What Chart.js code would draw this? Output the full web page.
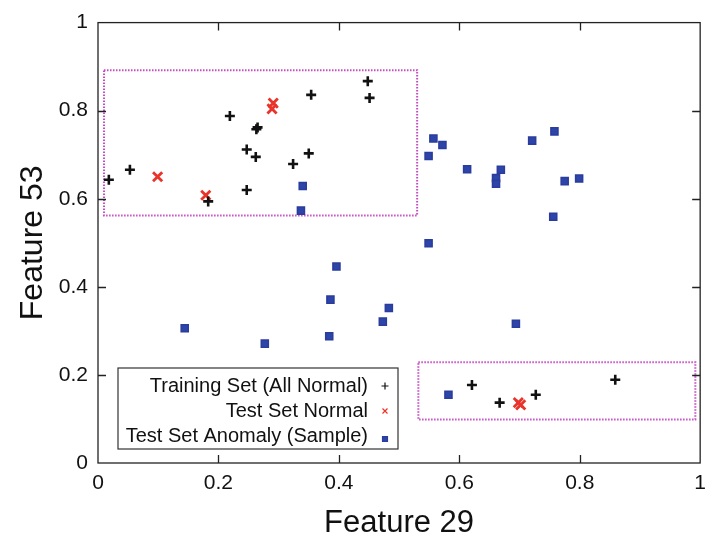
<!DOCTYPE html>
<html>
<head>
<meta charset="utf-8">
<script src="https://cdn.jsdelivr.net/npm/chart.js@4"></script>
<style>
  html, body { margin: 0; padding: 0; background: #fff; }
  #wrap { width: 714px; height: 546px; }
</style>
</head>
<body>
<div id="wrap"><canvas id="scatter"></canvas></div>
<script>
// values
const trainX = [0.018, 0.053, 0.183, 0.219, 0.247, 0.247, 0.262, 0.263, 0.265, 0.324, 0.350, 0.354, 0.448, 0.451, 0.621, 0.667, 0.727, 0.859];
const trainY = [0.643, 0.666, 0.594, 0.788, 0.712, 0.620, 0.695, 0.758, 0.762, 0.679, 0.703, 0.836, 0.867, 0.829, 0.177, 0.137, 0.155, 0.189];

const normalX = [0.099, 0.179, 0.289, 0.291, 0.698, 0.702];
const normalY = [0.650, 0.608, 0.804, 0.817, 0.137, 0.132];

const anomalyX = [0.340, 0.337, 0.557, 0.572, 0.549, 0.613, 0.669, 0.661, 0.661, 0.721, 0.758, 0.775, 0.799, 0.756, 0.549, 0.694, 0.396, 0.386, 0.483, 0.473, 0.384, 0.144, 0.277, 0.582];
const anomalyY = [0.629, 0.573, 0.737, 0.722, 0.697, 0.667, 0.666, 0.647, 0.634, 0.732, 0.753, 0.640, 0.646, 0.559, 0.499, 0.316, 0.446, 0.371, 0.352, 0.321, 0.288, 0.306, 0.271, 0.155];

// dotted boxes: [xmin, xmax, ymin, ymax]
const boxes = [
  [0.010, 0.530, 0.562, 0.892],
  [0.532, 0.992, 0.099, 0.229]
];

const tickValues = [0, 0.2, 0.4, 0.6, 0.8, 1];
const tickLabels = ['0', '0.2', '0.4', '0.6', '0.8', '1'];

const seriesNames = ['Training Set (All Normal)', 'Test Set Normal', 'Test Set Anomaly (Sample)'];

const toPoints = (xs, ys) => xs.map((x, i) => ({ x: x, y: ys[i] }));
const FONT = '"Liberation Sans", Arial, Helvetica, sans-serif';

const labelFor = v => {
  const i = tickValues.findIndex(t => Math.abs(t - v) < 1e-6);
  return i >= 0 ? tickLabels[i] : '';
};

// frame, inward ticks on all four sides, dotted boxes, legend
const framePlugin = {
  id: 'frame',
  beforeDatasetsDraw(chart) {
    const { ctx, scales: { x, y } } = chart;
    ctx.save();
    ctx.strokeStyle = '#c64cc4';
    ctx.lineWidth = 2;
    ctx.setLineDash([1.5, 1.5]);
    boxes.forEach(b => {
      const x0 = x.getPixelForValue(b[0]), x1 = x.getPixelForValue(b[1]);
      const y0 = y.getPixelForValue(b[3]), y1 = y.getPixelForValue(b[2]);
      ctx.strokeRect(x0, y0, x1 - x0, y1 - y0);
    });
    ctx.restore();
  },
  afterDatasetsDraw(chart) {
    const { ctx, chartArea: a, scales: { x, y } } = chart;
    ctx.save();
    ctx.strokeStyle = '#222';
    ctx.lineWidth = 1.3;
    ctx.strokeRect(a.left, a.top, a.right - a.left, a.bottom - a.top);
    const len = 8;
    ctx.beginPath();
    tickValues.slice(1, -1).forEach(v => {
      const px = Math.round(x.getPixelForValue(v)) + 0.5;
      ctx.moveTo(px, a.bottom); ctx.lineTo(px, a.bottom - len);
      ctx.moveTo(px, a.top); ctx.lineTo(px, a.top + len);
      const py = Math.round(y.getPixelForValue(v)) + 0.5;
      ctx.moveTo(a.left, py); ctx.lineTo(a.left + len, py);
      ctx.moveTo(a.right, py); ctx.lineTo(a.right - len, py);
    });
    ctx.stroke();

    // legend box, text right aligned with marker after it
    const lx = a.left + 20, ly = a.bottom - 95, lw = 280, lh = 81;
    ctx.fillStyle = '#fff';
    ctx.fillRect(lx, ly, lw, lh);
    ctx.lineWidth = 1.2;
    ctx.strokeStyle = '#333';
    ctx.strokeRect(lx, ly, lw, lh);
    ctx.font = '20px ' + FONT;
    ctx.textAlign = 'right';
    ctx.textBaseline = 'middle';
    chart.data.datasets.forEach((ds, i) => {
      const ty = ly + 18 + i * 25;
      ctx.fillStyle = '#111';
      ctx.fillText(ds.label, lx + 250, ty);
      ctx.fillStyle = ds.backgroundColor;
      ctx.strokeStyle = ds.borderColor;
      Chart.helpers.drawPoint(ctx, {
        pointStyle: ds.pointStyle,
        radius: 3.5,
        borderWidth: 2,
        rotation: 0
      }, lx + 267, ty + (i === 2 ? 3 : 0));
    });
    ctx.restore();
  }
};

new Chart(document.getElementById('scatter'), {
  type: 'scatter',
  data: {
    datasets: [
      {
        label: seriesNames[0],
        data: toPoints(trainX, trainY),
        pointStyle: 'cross',
        pointRadius: 5,
        borderWidth: 2.6,
        borderColor: '#111',
        backgroundColor: '#111'
      },
      {
        label: seriesNames[1],
        data: toPoints(normalX, normalY),
        pointStyle: 'crossRot',
        pointRadius: 6.5,
        borderWidth: 2.8,
        borderColor: '#e8342b',
        backgroundColor: '#e8342b'
      },
      {
        label: seriesNames[2],
        data: toPoints(anomalyX, anomalyY),
        pointStyle: 'rect',
        pointRadius: 5,
        borderWidth: 1.5,
        borderColor: '#2a3c9c',
        backgroundColor: '#2d44a8'
      }
    ]
  },
  options: {
    responsive: true,
    maintainAspectRatio: false,
    animation: false,
    layout: { padding: { top: 18, right: 13, left: 0, bottom: 0 } },
    plugins: {
      legend: { display: false },
      tooltip: { enabled: false }
    },
    scales: {
      x: {
        type: 'linear',
        min: 0,
        max: 1,
        afterFit: s => { s.height = 83; },
        afterBuildTicks: s => { s.ticks = tickValues.map(v => ({ value: v })); },
        grid: { display: false, drawTicks: false },
        border: { display: false },
        ticks: {
          padding: 8,
          color: '#111',
          font: { family: FONT, size: 21 },
          callback: v => labelFor(v)
        },
        title: {
          display: true,
          text: 'Feature 29',
          color: '#111',
          font: { family: FONT, size: 31 },
          padding: { top: 0, bottom: 4 }
        }
      },
      y: {
        type: 'linear',
        min: 0,
        max: 1,
        afterFit: s => { s.width = 98; },
        afterBuildTicks: s => { s.ticks = tickValues.map(v => ({ value: v })); },
        grid: { display: false, drawTicks: false },
        border: { display: false },
        ticks: {
          padding: 10,
          color: '#111',
          font: { family: FONT, size: 21 },
          callback: v => labelFor(v)
        },
        title: {
          display: true,
          text: 'Feature 53',
          color: '#111',
          font: { family: FONT, size: 32 },
          padding: { top: 14, bottom: 0 }
        }
      }
    }
  },
  plugins: [framePlugin]
});
</script>
</body>
</html>
